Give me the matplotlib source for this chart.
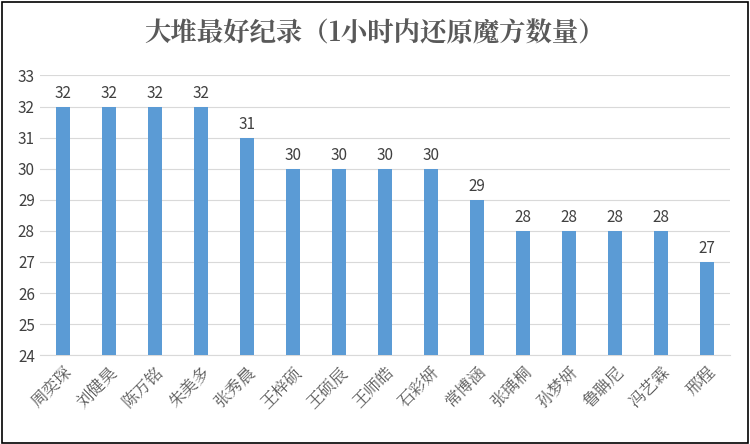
import matplotlib.pyplot as plt
from matplotlib.patches import Rectangle

names = ["周奕琛", "刘健昊", "陈万铭", "朱美多", "张秀晨", "王梓硕", "王硕辰", "王师皓",
         "石彩妍", "常博涵", "张瑀桐", "孙梦妍", "鲁聃尼", "冯艺霖", "邢程"]
counts = [32, 32, 32, 32, 31, 30, 30, 30, 30, 29, 28, 28, 28, 28, 27]
title = "大堆最好纪录（1小时内还原魔方数量）"

plt.rcParams["font.family"] = "Noto Sans CJK SC"
fig = plt.figure(figsize=(7.5, 4.44), dpi=100)
ax = fig.add_axes([0.053, 0.2, 0.92, 0.63])
x = range(len(names))
ax.bar(x, [c - 24 for c in counts], bottom=24, width=0.3, color="#5b9bd5", zorder=3)
for i, c in enumerate(counts):
    ax.text(i, c + 0.15, str(c), ha="center", va="bottom", fontsize=11, color="#404040")
ax.set_ylim(24, 33)
ax.set_xlim(-0.5, len(names) - 0.5)
ax.set_yticks(range(24, 34))
ax.tick_params(axis="y", length=0, labelsize=11, labelcolor="#404040")
ax.tick_params(axis="x", length=0, pad=6)
ax.set_xticks(list(x))
ax.set_xticklabels(names, rotation=45, ha="right", rotation_mode="anchor",
                   fontsize=12, color="#595959", fontfamily="Noto Serif CJK SC")
ax.grid(axis="y", color="#d9d9d9", lw=0.8, zorder=0)
for s in ["top", "right", "left"]:
    ax.spines[s].set_visible(False)
ax.spines["bottom"].set_color("#d9d9d9")
fig.text(0.5, 0.925, title, ha="center", va="center", fontsize=19, fontweight="bold",
         color="#595959", fontfamily="Noto Serif CJK SC")
fig.patches.append(Rectangle((0.002, 0.003), 0.995, 0.993, transform=fig.transFigure,
                             fill=False, ec="black", lw=1.2))
fig.savefig("out.png", dpi=100)
